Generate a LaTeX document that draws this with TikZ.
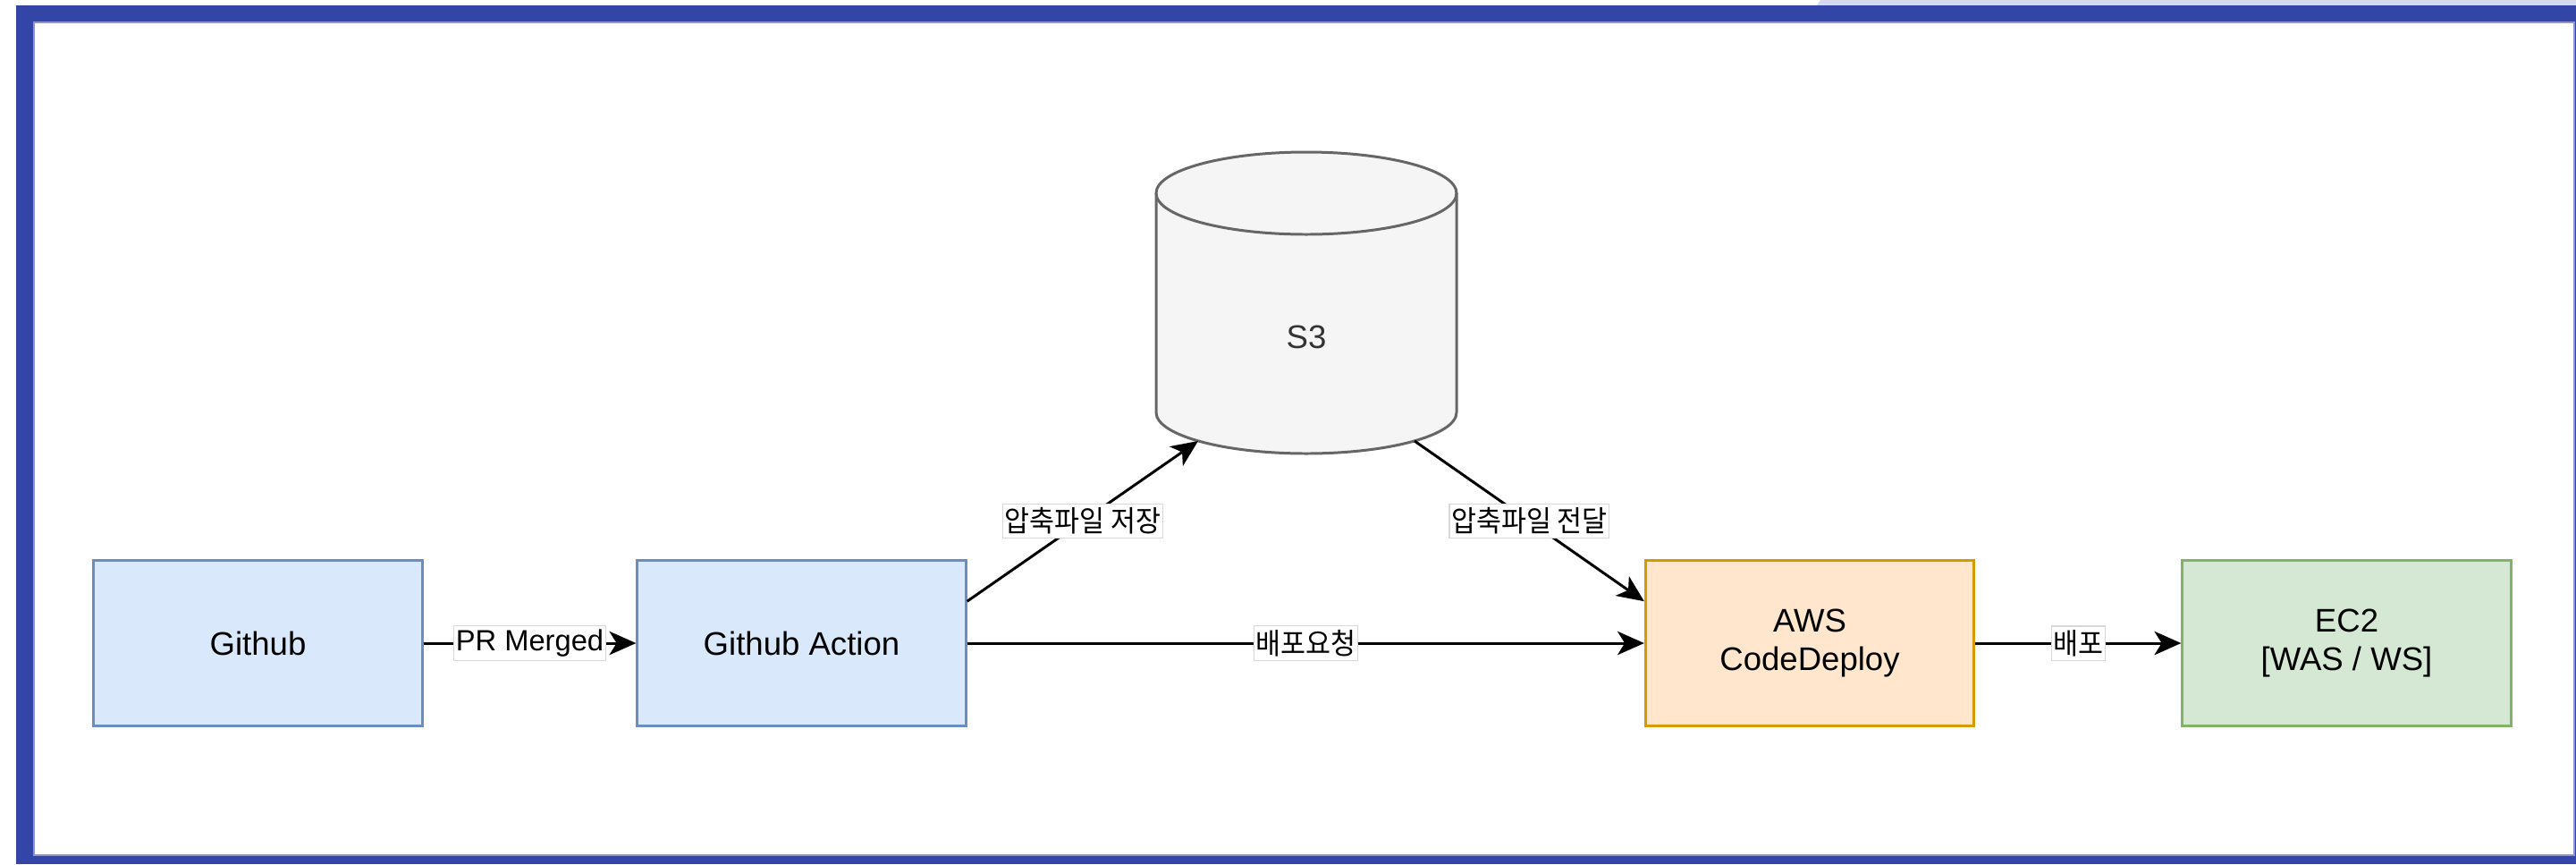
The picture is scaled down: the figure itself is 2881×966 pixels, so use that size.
\documentclass[tikz,border=0pt]{standalone}
\usepackage{fontspec}
\setmainfont{Liberation Sans}
\newfontfamily\kr[FakeStretch=0.93]{Noto Sans CJK KR}
\usetikzlibrary{arrows.meta,calc}
\definecolor{frameblue}{HTML}{3345A7}
\definecolor{frameline}{HTML}{8C94D6}
\definecolor{lav}{HTML}{D6D9EC}
\definecolor{bluefill}{HTML}{DAE8FC}
\definecolor{bluestroke}{HTML}{6C8EBF}
\definecolor{orfill}{HTML}{FFE6CC}
\definecolor{orstroke}{HTML}{D79B00}
\definecolor{grfill}{HTML}{D5E8D4}
\definecolor{grstroke}{HTML}{82B366}
\definecolor{s3fill}{HTML}{F5F5F5}
\definecolor{s3stroke}{HTML}{666666}
\definecolor{s3text}{HTML}{333333}
\definecolor{lblgray}{HTML}{D8D8D8}
\begin{document}
\begin{tikzpicture}[x=0.01cm,y=-0.01cm,
  box/.style={rectangle, minimum width=3.67cm, minimum height=1.84cm, line width=0.85pt,
    align=center, inner sep=0pt, font=\fontsize{10.4}{12.3}\selectfont},
  bluebox/.style={box, fill=bluefill, draw=bluestroke},
  orbox/.style={box, fill=orfill, draw=orstroke},
  grbox/.style={box, fill=grfill, draw=grstroke},
  conn/.style={line width=0.85pt, draw=black, -{Stealth[length=8.5pt, width=7.5pt, inset=2.3pt]}},
  elabel/.style={fill=white, draw=lblgray, line width=0.3pt, inner xsep=0.6pt, inner ysep=1.2pt,
    font=\fontsize{9.3}{11}\selectfont, text=black}
]
\useasboundingbox (0,0) rectangle (2881,966);
\fill[white] (0,0) rectangle (2881,966);
% frame
\fill[lav] (2032,6) -- (2036,0) -- (2881,0) -- (2881,6) -- cycle;
\fill[frameblue] (18,6) rectangle (2881,966);
\fill[white] (38,25) rectangle (2879,956);
\draw[frameline, line width=0.4pt] (38,25) rectangle (2879,956);

% boxes
\node[bluebox] (gh) at (288.5,719) {Github};
\node[bluebox] (ga) at (896.5,719) {Github Action};
\node[orbox] (aws) at (2024,719) {AWS\\CodeDeploy};
\node[grbox] (ec2) at (2624.5,719) {EC2\\{[WAS / WS]}};

% S3 cylinder
\filldraw[fill=s3fill, draw=s3stroke, line width=0.85pt]
  (1293,216) -- (1293,461) arc[start angle=180, end angle=0, x radius=168, y radius=46]
  -- (1629,216) arc[start angle=0, end angle=-180, x radius=168, y radius=46] -- cycle;
\draw[s3stroke, line width=0.85pt] (1293,216) arc[start angle=180, end angle=0, x radius=168, y radius=46];
\node[font=\fontsize{10.4}{12.3}\selectfont, text=s3text] (s3) at (1461,377) {S3};
\coordinate (s3in) at (1340,493);
\coordinate (s3out) at (1582,493);
\coordinate (gaout) at ($(ga.north east)!0.25!(ga.south east)$);
\coordinate (awsin) at ($(aws.north west)!0.25!(aws.south west)$);

% connectors
\draw[conn] (gh.east) -- node[elabel] {PR Merged} (ga.west);
\draw[conn] (ga.east) -- node[elabel] {\kr 배포요청} (aws.west);
\draw[conn] (gaout) -- node[elabel] {\kr 압축파일 저장} (s3in);
\draw[conn] (s3out) -- node[elabel] {\kr 압축파일 전달} (awsin);
\draw[conn] (aws.east) -- node[elabel] {\kr 배포} (ec2.west);
\end{tikzpicture}
\end{document}
